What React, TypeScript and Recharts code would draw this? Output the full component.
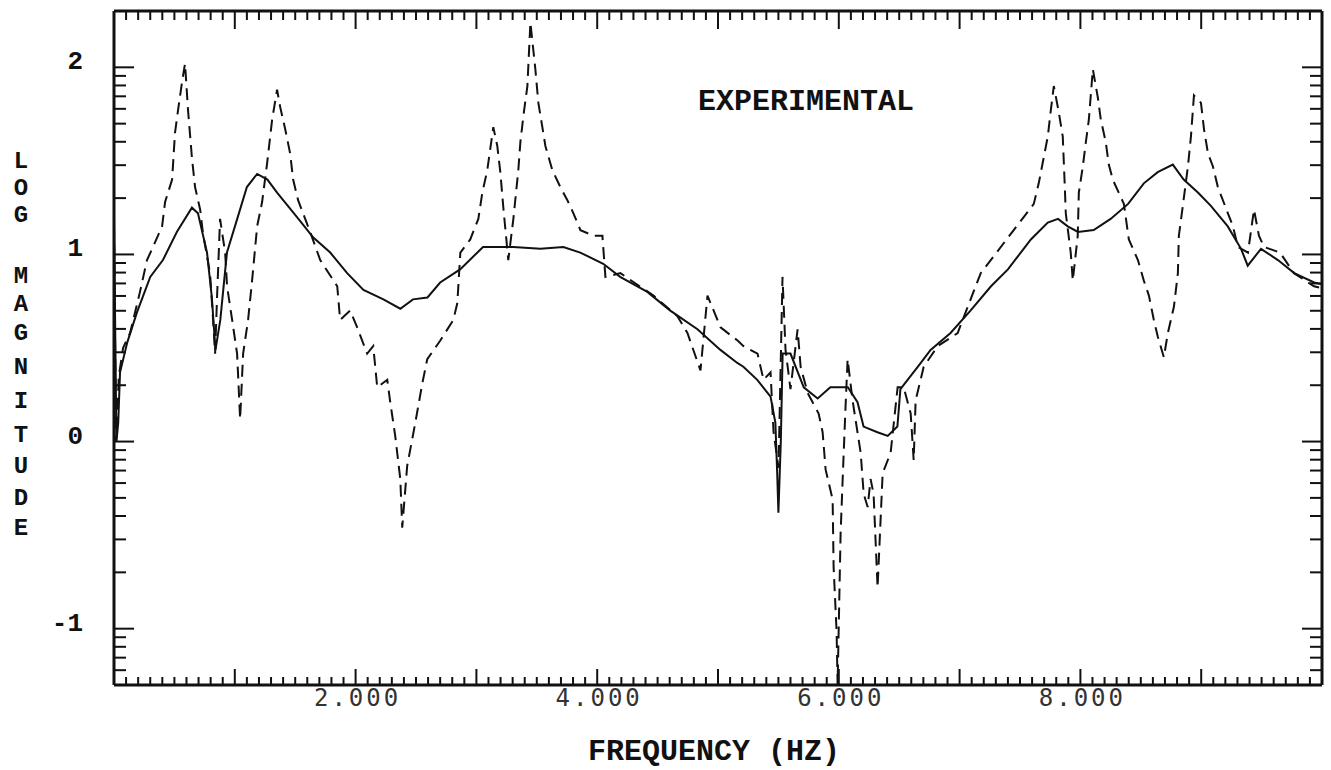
import { ComposedChart, Line, Scatter, XAxis, YAxis } from "recharts";

// frequency (Hz) / log magnitude
const solidFreq = [
  0, 20, 35, 50, 110, 190, 300, 405, 520, 645, 695, 770, 810, 840, 880, 935,
  1020, 1100, 1185, 1270, 1350, 1515, 1650, 1790, 1930, 2065, 2230, 2370, 2475,
  2595, 2700, 2865, 3055, 3305, 3530, 3720, 3860, 4050, 4190, 4415, 4605, 4830,
  5020, 5160, 5210, 5325, 5435, 5475, 5490, 5500, 5520, 5535, 5600, 5710, 5825,
  5930, 6075, 6155, 6205, 6320, 6405, 6485, 6510, 6655, 6760, 6925, 7090, 7260,
  7400, 7530, 7590, 7730, 7815, 7895, 7980, 8110, 8250, 8395, 8525, 8640, 8765,
  8855, 8975, 9080, 9220, 9330, 9385, 9495, 9635, 9770, 9935, 10000,
];
const solidMag = [
  1.2, 0.0, 0.1, 0.37, 0.53, 0.69, 0.88, 0.97, 1.12, 1.25, 1.22, 1.01, 0.77,
  0.49, 0.65, 1.01, 1.19, 1.36, 1.43, 1.4, 1.33, 1.2, 1.09, 1.01, 0.9, 0.81,
  0.76, 0.71, 0.76, 0.77, 0.85, 0.92, 1.04, 1.04, 1.03, 1.04, 1.01, 0.95, 0.88,
  0.8, 0.7, 0.6, 0.49, 0.42, 0.4, 0.33, 0.24, 0.1, -0.17, -0.38, 0.0, 0.47,
  0.47, 0.29, 0.23, 0.29, 0.29, 0.21, 0.08, 0.05, 0.03, 0.08, 0.28, 0.4, 0.49,
  0.58, 0.7, 0.83, 0.92, 1.03, 1.08, 1.17, 1.19, 1.15, 1.12, 1.13, 1.19, 1.27,
  1.38, 1.44, 1.48, 1.4, 1.33, 1.26, 1.15, 1.03, 0.94, 1.03, 0.97, 0.9, 0.85,
  0.84,
];

const dashedFreq = [
  0, 17, 40, 75, 133, 215, 273, 323, 398, 423, 481, 505, 530, 563, 588, 613,
  646, 671, 713, 737, 795, 820, 837, 853, 878, 920, 936, 978, 1019, 1044, 1069,
  1110, 1143, 1185, 1226, 1268, 1309, 1350, 1375, 1417, 1458, 1483, 1524, 1624,
  1707, 1848, 1872, 1955, 2013, 2096, 2146, 2179, 2262, 2287, 2328, 2370, 2386,
  2427, 2494, 2552, 2593, 2701, 2809, 2842, 2867, 2949, 3016, 3049, 3090, 3140,
  3173, 3198, 3223, 3264, 3306, 3347, 3364, 3389, 3422, 3447, 3488, 3513, 3546,
  3571, 3629, 3695, 3753, 3803, 3861, 3969, 4043, 4068, 4192, 4466, 4664, 4747,
  4855, 4913, 5021, 5162, 5211, 5327, 5377, 5435, 5460, 5501, 5534, 5559, 5600,
  5659, 5684, 5742, 5833, 5866, 5891, 5949, 5957, 5982, 5990, 6015, 6032, 6056,
  6073, 6114, 6181, 6206, 6239, 6263, 6288, 6321, 6363, 6429, 6487, 6537, 6595,
  6620, 6636, 6703, 6819, 6984, 7175, 7448, 7614, 7655, 7688, 7730, 7755, 7780,
  7821, 7854, 7871, 7879, 7920, 7937, 7978, 7987, 8020, 8045, 8070, 8103, 8144,
  8169, 8210, 8235, 8268, 8360, 8401, 8476, 8525, 8567, 8608, 8641, 8691, 8724,
  8774, 8807, 8815, 8848, 8890, 8915, 8940, 8998, 9023, 9056, 9097, 9138, 9221,
  9263, 9304, 9387, 9437, 9478, 9520, 9652, 9768, 9934, 10000,
];
const dashedMag = [
  1.15, 0.0, 0.35, 0.5, 0.58, 0.8, 0.97, 1.04, 1.15, 1.28, 1.4, 1.65, 1.77,
  1.92, 2.02, 1.77, 1.51, 1.36, 1.24, 1.11, 0.9, 0.65, 0.47, 0.77, 1.19, 1.01,
  0.83, 0.65, 0.47, 0.12, 0.47, 0.65, 0.86, 1.15, 1.28, 1.49, 1.72, 1.88, 1.79,
  1.67, 1.54, 1.4, 1.29, 1.12, 0.97, 0.83, 0.65, 0.7, 0.61, 0.47, 0.51, 0.29,
  0.33, 0.21, 0.03, -0.2, -0.46, -0.13, 0.1, 0.31, 0.44, 0.54, 0.65, 0.74,
  1.01, 1.08, 1.19, 1.33, 1.45, 1.68, 1.58, 1.44, 1.25, 0.97, 1.19, 1.45, 1.6,
  1.74, 1.9, 2.24, 1.99, 1.81, 1.68, 1.58, 1.45, 1.36, 1.29, 1.22, 1.13, 1.1,
  1.1, 0.88, 0.9, 0.78, 0.67, 0.58, 0.38, 0.78, 0.61, 0.54, 0.51, 0.47, 0.33,
  0.37, 0.05, -0.14, 0.88, 0.49, 0.28, 0.6, 0.4, 0.26, 0.15, 0.05, -0.15,
  -0.31, -0.67, -1.02, -1.3, -0.49, -0.2, 0.19, 0.44, 0.22, -0.06, -0.28, -0.35,
  -0.2, -0.28, -0.78, -0.17, -0.06, 0.29, 0.29, 0.15, -0.1, 0.22, 0.4, 0.51,
  0.58, 0.9, 1.13, 1.27, 1.38, 1.49, 1.63, 1.77, 1.9, 1.76, 1.63, 1.36, 1.22,
  1.01, 0.86, 1.1, 1.33, 1.47, 1.6, 1.72, 1.99, 1.84, 1.72, 1.6, 1.48, 1.4,
  1.27, 1.08, 0.97, 0.86, 0.78, 0.65, 0.56, 0.45, 0.58, 0.72, 0.9, 1.1, 1.26,
  1.47, 1.63, 1.85, 1.81, 1.67, 1.54, 1.47, 1.36, 1.22, 1.15, 1.04, 1.01, 1.24,
  1.1, 1.04, 1.01, 0.9, 0.83, 0.82,
];

const xLabelTicks = [2000, 4000, 6000, 8000];
const xTickLabels = ["2.000", "4.000", "6.000", "8.000"];
const yMajorTicks = [-1, 0, 1, 2];
const yTickLabels = ["-1", "0", "1", "2"];
const yMinorMultipliers = [2, 3, 4, 5, 6, 7, 8, 9];
const yAxisLetters = ["L", "O", "G", "M", "A", "G", "N", "I", "T", "U", "D", "E"];
const yAxisLetterPos = [161, 188, 215, 276, 304, 333, 367, 401, 435, 466, 498, 528];

// log axis: 0.05 .. 200
const Y_MIN = Math.log10(0.05);
const Y_MAX = Math.log10(200);
const F_MIN = 0;
const F_MAX = 10000;

const solidData = solidFreq.map((f, i) => ({ f, mag: solidMag[i] }));
const dashedData = dashedFreq.map((f, i) => ({ f, mag: dashedMag[i] }));

// tick marks: every 100 Hz along x, log minor/major along y
const xTickFreqs: number[] = [];
for (let f = 100; f < F_MAX; f += 100) xTickFreqs.push(f);

const yTickVals: number[] = [...yMajorTicks];
for (let n = -2; n <= 2; n++) {
  yMinorMultipliers.forEach((m) => {
    const v = n + Math.log10(m);
    if (v > Y_MIN + 0.01 && v < Y_MAX - 0.01) yTickVals.push(v);
  });
}

const isMajorX = (f: number) => f % 1000 === 0;
const isMajorY = (v: number) => yMajorTicks.includes(v);

const bottomMarks = xTickFreqs.map((f) => ({ f, mag: Y_MIN, dx: 0, dy: -(isMajorX(f) ? 16 : 8) }));
const topMarks = xTickFreqs.map((f) => ({ f, mag: Y_MAX, dx: 0, dy: isMajorX(f) ? 18 : 9 }));
const leftMarks = yTickVals.map((v) => ({ f: F_MIN, mag: v, dx: isMajorY(v) ? 20 : 12, dy: 0 }));
const rightMarks = yTickVals.map((v) => ({ f: F_MAX, mag: v, dx: -(isMajorY(v) ? 20 : 12), dy: 0 }));

const MONO = "'Liberation Mono', 'Courier New', monospace";
const DIGITS = "'DejaVu Sans Mono', monospace";
const INK = "#111";

const TickMark = (props: any) => {
  const { cx, cy, payload } = props;
  if (cx == null || cy == null) return null;
  return (
    <line
      x1={cx}
      y1={cy}
      x2={cx + payload.dx}
      y2={cy + payload.dy}
      stroke={INK}
      strokeWidth={2}
    />
  );
};

const XLabel = (props: any) => {
  const { x, y, payload } = props;
  const idx = xLabelTicks.indexOf(payload.value);
  if (idx < 0) return null;
  return (
    <text
      x={x + 2}
      y={y + 21}
      textAnchor="middle"
      fontFamily={DIGITS}
      fontSize={24}
      letterSpacing={3}
      fill="#333"
    >
      {xTickLabels[idx]}
    </text>
  );
};

const YLabel = (props: any) => {
  const { x, y, payload } = props;
  const idx = yMajorTicks.indexOf(payload.value);
  if (idx < 0) return null;
  return (
    <text
      x={x - 31}
      y={y - 5}
      textAnchor="end"
      dominantBaseline="central"
      fontFamily={MONO}
      fontWeight="bold"
      fontSize={26}
      fill={INK}
    >
      {yTickLabels[idx]}
    </text>
  );
};

export default function App() {
  return (
    <div style={{ position: "absolute", left: 0, top: 0, width: 1331, height: 770, background: "#fff" }}>
      <ComposedChart width={1331} height={770} margin={{ top: 10, right: 8, bottom: 84, left: 113 }}>
        <XAxis
          xAxisId="bottom"
          dataKey="f"
          type="number"
          domain={[F_MIN, F_MAX]}
          allowDataOverflow
          ticks={xLabelTicks}
          interval={0}
          height={1}
          tickSize={0}
          tickMargin={0}
          tickLine={false}
          tick={<XLabel />}
          axisLine={{ stroke: INK, strokeWidth: 3 }}
        />
        <XAxis
          xAxisId="top"
          orientation="top"
          dataKey="f"
          type="number"
          domain={[F_MIN, F_MAX]}
          allowDataOverflow
          height={1}
          tick={false}
          tickLine={false}
          axisLine={{ stroke: INK, strokeWidth: 3 }}
        />
        <YAxis
          yAxisId="left"
          dataKey="mag"
          type="number"
          domain={[Y_MIN, Y_MAX]}
          allowDataOverflow
          ticks={yMajorTicks}
          interval={0}
          width={1}
          tickSize={0}
          tickMargin={0}
          tickLine={false}
          tick={<YLabel />}
          axisLine={{ stroke: INK, strokeWidth: 3 }}
        />
        <YAxis
          yAxisId="right"
          orientation="right"
          dataKey="mag"
          type="number"
          domain={[Y_MIN, Y_MAX]}
          allowDataOverflow
          width={1}
          tick={false}
          tickLine={false}
          axisLine={{ stroke: INK, strokeWidth: 3 }}
        />

        {[bottomMarks, topMarks, leftMarks, rightMarks].map((marks, i) => (
          <Scatter
            key={i}
            xAxisId="bottom"
            yAxisId="left"
            data={marks}
            shape={<TickMark />}
            isAnimationActive={false}
          />
        ))}

        <Line
          xAxisId="bottom"
          yAxisId="left"
          data={solidData}
          dataKey="mag"
          type="linear"
          stroke={INK}
          strokeWidth={2}
          dot={false}
          isAnimationActive={false}
        />
        <Line
          xAxisId="top"
          yAxisId="right"
          data={dashedData}
          dataKey="mag"
          type="linear"
          stroke={INK}
          strokeWidth={2}
          strokeDasharray="12 7"
          dot={false}
          isAnimationActive={false}
        />
      </ComposedChart>
      <svg
        width={1331}
        height={770}
        style={{ position: "absolute", left: 0, top: 0, pointerEvents: "none" }}
      >
        <text x={698} y={110} fontFamily={MONO} fontWeight="bold" fontSize={30} fill={INK}>
          EXPERIMENTAL
        </text>
        <text x={588} y={760} fontFamily={MONO} fontWeight="bold" fontSize={30} fill={INK}>
          FREQUENCY (HZ)
        </text>
        <text
          textAnchor="middle"
          dominantBaseline="central"
          fontFamily={MONO}
          fontWeight="bold"
          fontSize={24}
          fill={INK}
        >
          {yAxisLetters.map((ch, i) => (
            <tspan key={i} x={21} y={yAxisLetterPos[i]}>
              {ch}
            </tspan>
          ))}
        </text>
      </svg>
    </div>
  );
}
